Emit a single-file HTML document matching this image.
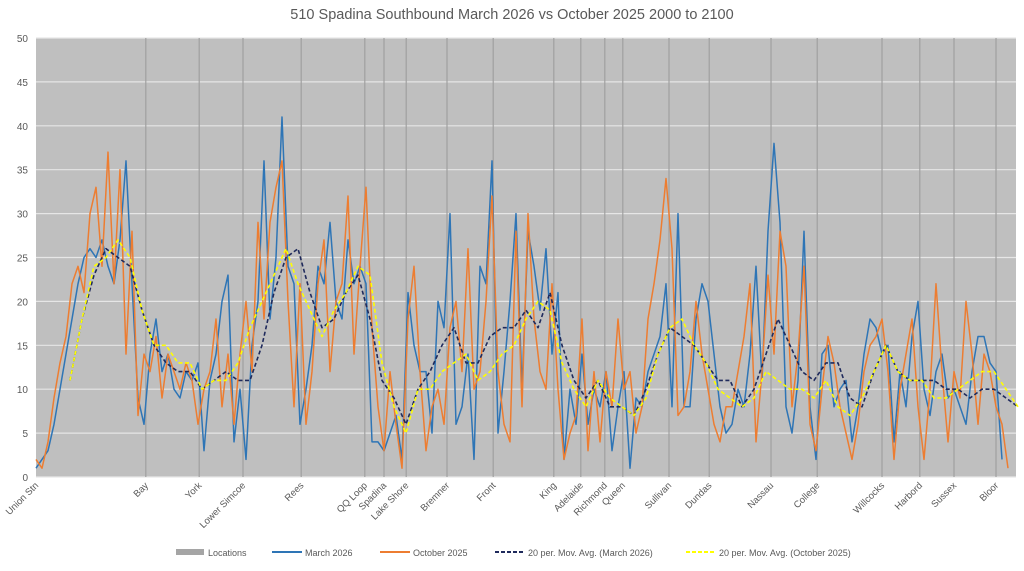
<!DOCTYPE html>
<html><head><meta charset="utf-8"><style>
body{margin:0;background:#fff;}
svg text{font-family:"Liberation Sans",sans-serif;fill:#595959;}
</style></head><body>
<svg id="chart" width="1024" height="566" viewBox="0 0 1024 566" xmlns="http://www.w3.org/2000/svg">
<text x="512" y="19" text-anchor="middle" font-size="14.5">510 Spadina Southbound March 2026 vs October 2025 2000 to 2100</text>
<rect x="36" y="38" width="980" height="439" fill="#bfbfbf"/>
<g id="grid"></g><g id="locs"></g><g id="series"></g><g id="axes"></g>
<g font-size="9">
<rect x="176" y="549" width="28" height="6" fill="#a5a5a5"/>
<text x="208" y="556" font-size="9">Locations</text>
<line x1="272" y1="552" x2="302" y2="552" stroke="#2e75b6" stroke-width="2"/>
<text x="305" y="556" font-size="9">March 2026</text>
<line x1="380" y1="552" x2="410" y2="552" stroke="#ed7d31" stroke-width="2"/>
<text x="413" y="556" font-size="9">October 2025</text>
<line x1="495" y1="552" x2="525" y2="552" stroke="#1f2a5c" stroke-width="2" stroke-dasharray="4,2"/>
<text x="528" y="556" font-size="9">20 per. Mov. Avg. (March 2026)</text>
<line x1="686" y1="552" x2="716" y2="552" stroke="#ffff00" stroke-width="2" stroke-dasharray="4,2"/>
<text x="719" y="556" font-size="9">20 per. Mov. Avg. (October 2025)</text>
</g>
</svg>
<script>
const yTicks=[0,5,10,15,20,25,30,35,40,45,50];
const stations=["Union Stn","Bay","York","Lower Simcoe","Rees","QQ Loop","Spadina","Lake Shore","Bremner","Front","King","Adelaide","Richmond","Queen","Sullivan","Dundas","Nassau","College","Willcocks","Harbord","Sussex","Bloor"];
const stationIdx=[0,18.3,27.2,34.5,44.2,54.8,58,61.7,68.5,76.2,86.3,90.8,94.8,97.8,105.5,112.2,122.5,130.2,141,147.3,153,160];
const march=[1,2,3,6,10,14,18,22,25,26,25,27,24,22,27,36,22,9,6,14,18,12,14,10,9,12,11,13,3,11,14,20,23,4,10,2,15,20,36,18,25,41,24,22,6,10,15,24,22,29,20,18,27,22,24,22,4,4,3,5,7,2,21,15,12,12,5,20,17,30,6,8,14,2,24,22,36,5,12,20,30,10,28,24,19,26,14,21,2,10,6,14,6,10,8,12,3,8,12,1,9,8,12,14,16,22,8,30,8,8,18,22,20,14,8,5,6,10,8,14,24,11,28,38,29,8,5,11,28,8,2,14,15,8,10,11,4,8,14,18,17,14,15,4,12,8,16,20,10,7,12,14,9,10,8,6,12,16,16,13,12,2];
const october=[2,1,4,9,13,16,22,24,21,30,33,24,37,22,35,14,28,7,14,12,16,9,14,12,10,13,11,6,10,12,18,8,14,6,14,20,12,29,18,29,33,36,20,8,22,6,12,22,27,12,20,22,32,14,24,33,17,8,3,12,6,1,18,24,12,3,8,10,6,17,20,12,26,10,12,20,32,12,6,4,28,8,30,18,12,10,22,10,2,5,7,18,3,12,4,12,8,18,10,12,5,8,18,22,27,34,26,7,8,12,20,14,10,6,4,8,8,12,16,22,4,12,23,14,28,24,8,14,24,6,3,10,16,13,8,5,2,6,12,15,16,18,12,2,10,14,18,8,2,10,22,12,4,12,9,20,14,6,14,12,8,6,1];
const maMarch=[11,18,23,26,25,24,19,15,13,12,12,10,11,12,11,11,15,21,25,26,21,17,18,21,23,18,11,9,6,10,12,15,17,13,13,16,17,17,19,17,21,15,11,9,11,8,8,7,10,14,17,16,15,13,11,11,8,10,14,18,15,12,11,13,13,9,8,12,15,12,11,11,11,10,10,9,10,10,9,8];
const maOct=[11,18,24,25,27,25,19,15,15,13,13,10,11,11,13,17,20,23,26,22,19,16,19,21,24,23,13,8,5,10,10,12,13,14,11,12,14,15,18,20,19,13,10,8,11,9,8,7,9,14,17,18,15,13,10,9,8,9,12,11,10,10,9,11,8,7,9,12,15,12,11,11,9,9,10,11,12,12,10,8];
const maStart=5.67, maStep=2;
const NS='http://www.w3.org/2000/svg';
const L=36,R=1016,T=38,B=477,N=163.33;
const xS=i=>L+(R-L)*i/N;
const yS=v=>B-(B-T)*v/50;
function mk(tag,attrs,parent){const e=document.createElementNS(NS,tag);for(const k in attrs)e.setAttribute(k,attrs[k]);parent.appendChild(e);return e;}
const grid=document.getElementById('grid'),axes=document.getElementById('axes'),locs=document.getElementById('locs'),ser=document.getElementById('series');
yTicks.forEach(t=>{
 const g=mk('line',{x1:L,x2:R,y1:yS(t),y2:yS(t),stroke:'#e6e6e6','stroke-width':1.2},grid);
 
 
 const tx=mk('text',{x:28,y:yS(t)+4,'text-anchor':'end','font-size':10},axes);
 tx.textContent=t;
 
 
});
stations.forEach((s,k)=>{
 const x=xS(stationIdx[k]);
 if(k>0){const ln=mk('line',{x1:x,x2:x,y1:T,y2:B,stroke:'#a0a0a0','stroke-width':1.2},locs);
 
 }
 const tx=mk('text',{x:x+3,y:486,'text-anchor':'end','font-size':9.5,transform:`rotate(-45 ${x+3} 486)`},axes);
 tx.textContent=s;
 
 
});
function line(vals,xf,color,w,dash,name){
 const d=vals.map((v,i)=>(i?'L':'M')+xf(i).toFixed(1)+','+yS(v).toFixed(1)).join('');
 const p=mk('path',{d,fill:'none',stroke:color,'stroke-width':w,'stroke-linejoin':'round'},ser);
 if(dash)p.setAttribute('stroke-dasharray',dash);
 
 
}
line(march,i=>xS(i),'#2e75b6',1.5,null,'march-2026-line');
line(october,i=>xS(i),'#ed7d31',1.5,null,'october-2025-line');
line(maMarch,i=>xS(maStart+i*maStep),'#1f2a5c',1.6,'4,2.5','ma-march-2026-line');
line(maOct,i=>xS(maStart+i*maStep),'#ffff00',1.6,'4,2.5','ma-october-2025-line');
</script>
</body></html>
